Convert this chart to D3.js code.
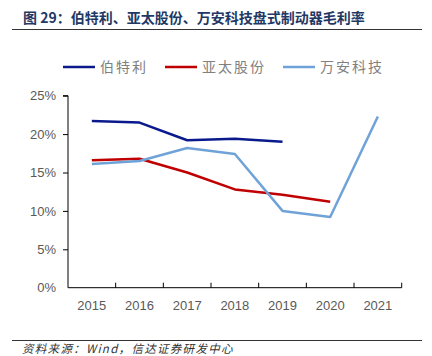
<!DOCTYPE html>
<html><head><meta charset="utf-8">
<script src="https://cdn.jsdelivr.net/npm/d3@7"></script>
<style>body{margin:0;background:#fff;}svg{display:block;}</style>
</head><body>
<svg id="c" width="432" height="356"></svg>
<script>
const years = ["2015","2016","2017","2018","2019","2020","2021"];
const seriesNames = ["伯特利","亚太股份","万安科技"];
const bertli = [21.7,21.5,19.2,19.4,19.0,null,null];
const yatai  = [16.6,16.8,15.0,12.8,12.1,11.2,null];
const wanan  = [16.1,16.5,18.2,17.4,10.0,9.2,22.3];
const yTicks = [0,5,10,15,20,25];
const colors = ["#0a1a8c","#c00000","#6fa3d8"];
const titleText = "图 29：伯特利、亚太股份、万安科技盘式制动器毛利率";
const sourceText = "资料来源：Wind，信达证券研发中心";

const svg = d3.select("#c");
const font = "'Noto Sans CJK SC','Noto Sans',sans-serif";

svg.append("text").attr("x",23).attr("y",23).attr("font-family",font)
  .attr("font-size",14).attr("font-weight","bold").attr("fill","#1f3864").text(titleText);
svg.append("line").attr("x1",12).attr("x2",422).attr("y1",29.5).attr("y2",29.5)
  .attr("stroke","#333").attr("stroke-width",1);

const x = d3.scaleBand().domain(years).range([68,401.7]);
const y = d3.scaleLinear().domain([0,25]).range([287.7,95.7]);

const yAxis = d3.axisLeft(y).tickValues(yTicks).tickFormat(d=>d+"%").tickSize(5);
const gy = svg.append("g").attr("transform","translate(68,0)").call(yAxis);
gy.select(".domain").attr("stroke","#000").attr("d","M-5,95.7H0V287.7");
gy.selectAll(".tick line").attr("stroke","#000").attr("x2",-5);
gy.selectAll(".tick").filter(d=>d===0).select("line").remove();
gy.selectAll("text").attr("font-family","Arial,'Liberation Sans',sans-serif").attr("font-size",13)
  .attr("fill","#595959").attr("x",-12);

const gx = svg.append("g").attr("transform","translate(0,287.7)");
gx.append("line").attr("x1",68).attr("x2",401.7).attr("y1",0).attr("y2",0).attr("stroke","#000");
const edges = years.map(d=>x(d)).concat([x(years[years.length-1])+x.bandwidth()]);
gx.selectAll("line.tk").data(edges.slice(1)).enter().append("line").attr("class","tk")
  .attr("x1",d=>d).attr("x2",d=>d).attr("y1",0).attr("y2",-5).attr("stroke","#000");
gx.selectAll("text").data(years).enter().append("text")
  .attr("x",d=>x(d)+x.bandwidth()/2).attr("y",22).attr("text-anchor","middle")
  .attr("font-family","Arial,'Liberation Sans',sans-serif").attr("font-size",13).attr("fill","#595959").text(d=>d);

const data = [bertli,yatai,wanan];
const line = d3.line().defined(d=>d!=null).x((d,i)=>x(years[i])+x.bandwidth()/2).y(d=>y(d));
data.forEach((s,i)=>{
  svg.append("path").datum(s).attr("d",line).attr("fill","none")
    .attr("stroke",colors[i]).attr("stroke-width",2.5).attr("stroke-linejoin","round");
});

const legX = [63,165,283];
seriesNames.forEach((n,i)=>{
  svg.append("line").attr("x1",legX[i]).attr("x2",legX[i]+32).attr("y1",67).attr("y2",67)
    .attr("stroke",colors[i]).attr("stroke-width",2.5);
  svg.append("text").attr("x",legX[i]+37).attr("y",72).attr("font-family",font)
    .attr("font-size",14).attr("fill","#808080").attr("letter-spacing",2).text(n);
});

svg.append("line").attr("x1",12).attr("x2",422).attr("y1",340.5).attr("y2",340.5)
  .attr("stroke","#333").attr("stroke-width",1);
svg.append("text").attr("x",22).attr("y",353).attr("font-family",font).attr("font-size",11.5)
  .attr("font-style","italic").attr("letter-spacing",1.3).attr("fill","#333").text(sourceText);
</script>
</body></html>
